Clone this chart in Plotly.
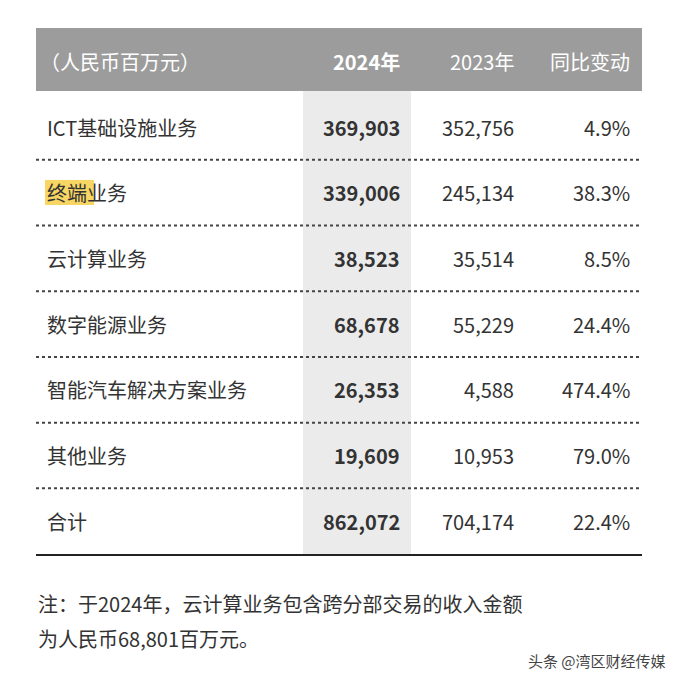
import plotly.graph_objects as go

categories = ["ICT基础设施业务", "终端业务", "云计算业务", "数字能源业务", "智能汽车解决方案业务", "其他业务", "合计"]
v2024 = ["369,903", "339,006", "38,523", "68,678", "26,353", "19,609", "862,072"]
v2023 = ["352,756", "245,134", "35,514", "55,229", "4,588", "10,953", "704,174"]
change = ["4.9%", "38.3%", "8.5%", "24.4%", "474.4%", "79.0%", "22.4%"]
headers = ["（人民币百万元）", "2024年", "2023年", "同比变动"]
note = ["注：于2024年，云计算业务包含跨分部交易的收入金额", "为人民币68,801百万元。"]

F = "Noto Sans CJK SC"
fig = go.Figure()
shapes = []
ann = []
shapes.append(dict(type="rect", x0=36, x1=642, y0=28, y1=91, fillcolor="#9c9c9c", line_width=0, layer="below"))
shapes.append(dict(type="rect", x0=303, x1=411, y0=91, y1=555, fillcolor="#ebebeb", line_width=0, layer="below"))
shapes.append(dict(type="rect", x0=45, x1=94, y0=180, y1=205, fillcolor="#f7d664", line_width=0, layer="below"))
hy = 61
ann.append(dict(x=38, y=hy, text=headers[0], xanchor="left", font=dict(size=20, color="white", family=F)))
ann.append(dict(x=402, y=hy, text="<b>"+headers[1]+"</b>", xanchor="right", font=dict(size=20, color="white", family=F)))
ann.append(dict(x=516, y=hy, text=headers[2], xanchor="right", font=dict(size=20, color="white", family=F)))
ann.append(dict(x=632, y=hy, text=headers[3], xanchor="right", font=dict(size=20, color="white", family=F)))
y0 = 127; step = 65.7
for i, c in enumerate(categories):
    y = y0 + i*step
    ann.append(dict(x=45, y=y, text=c, xanchor="left", font=dict(size=20, color="#333", family=F)))
    ann.append(dict(x=402, y=y, text="<b>"+v2024[i]+"</b>", xanchor="right", font=dict(size=20, color="#333", family=F)))
    ann.append(dict(x=516, y=y, text=v2023[i], xanchor="right", font=dict(size=20, color="#333", family=F)))
    ann.append(dict(x=632, y=y, text=change[i], xanchor="right", font=dict(size=20, color="#333", family=F)))
    if i < len(categories)-1:
        ly = y + step/2
        shapes.append(dict(type="line", x0=36, x1=642, y0=ly, y1=ly, line=dict(color="#444", width=2, dash="dot")))
shapes.append(dict(type="line", x0=36, x1=642, y0=555, y1=555, line=dict(color="#222", width=2)))
ann.append(dict(x=36, y=603, text=note[0], xanchor="left", font=dict(size=20, color="#333", family=F)))
ann.append(dict(x=36, y=638, text=note[1], xanchor="left", font=dict(size=20, color="#333", family=F)))
ann.append(dict(x=668, y=660, text="头条 @湾区财经传媒", xanchor="right", font=dict(size=15, color="#444", family=F)))
for a in ann:
    a.update(xref="x", yref="y", showarrow=False, yanchor="middle")
fig.update_layout(width=664, height=664, margin=dict(l=0, r=0, t=0, b=0),
                  paper_bgcolor="white", plot_bgcolor="white", shapes=shapes, annotations=ann,
                  xaxis=dict(range=[8, 672], visible=False, fixedrange=True),
                  yaxis=dict(range=[672, 8], visible=False, fixedrange=True), showlegend=False)
fig.write_html("out.html", config={"displayModeBar": False})
